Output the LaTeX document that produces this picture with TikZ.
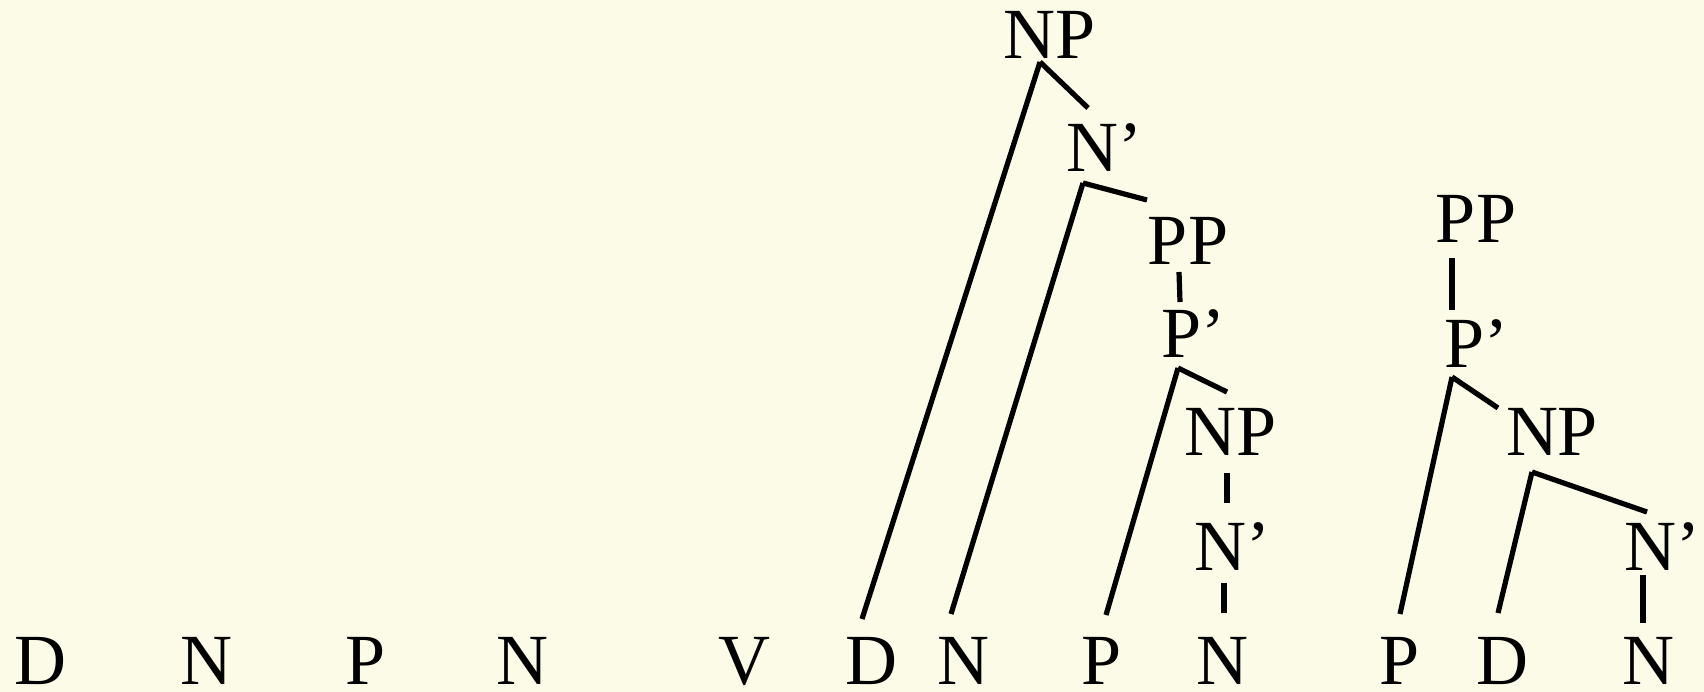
\documentclass[tikz,border=0pt]{standalone}
\usepackage{fontspec}
\setmainfont{Liberation Serif}
\definecolor{paper}{RGB}{251,251,232}
\begin{document}
\begin{tikzpicture}[x=1pt,y=-1pt,
  cat/.style={anchor=base,inner sep=0pt,font=\fontsize{72}{80}\selectfont},
  branch/.style={line width=5.2pt,black}]
\fill[paper] (0,0) rectangle (1704,692);
\useasboundingbox (0,0) rectangle (1704,692);

% terminal categories
\node[cat] (d1) at (40,684) {D};
\node[cat] (n1) at (206,684) {N};
\node[cat] (p1) at (366,684) {P};
\node[cat] (n2) at (522,684) {N};
\node[cat] (v1) at (744,684) {V};
\node[cat] (d2) at (871,684) {D};
\node[cat] (n3) at (963,684) {N};
\node[cat] (p2) at (1102,684) {P};
\node[cat] (n4) at (1222,684) {N};
\node[cat] (p3) at (1400,684) {P};
\node[cat] (d3) at (1502,684) {D};
\node[cat] (n5) at (1648,684) {N};

% object noun phrase
\node[cat] (np1) at (1050,59) {NP};
\node[cat] (nb1) at (1104,172) {N’};
\node[cat] (pp1) at (1188,265) {PP};
\node[cat] (pb1) at (1193,357) {P’};
\node[cat] (np2) at (1231,455) {NP};
\node[cat] (nb2) at (1232,570) {N’};

% prepositional phrase
\node[cat] (pp2) at (1476,243) {PP};
\node[cat] (pb2) at (1476,367) {P’};
\node[cat] (np3) at (1552,455) {NP};
\node[cat] (nb3) at (1662,570) {N’};

% branches
\draw[branch] ([shift={(-10,3)}]np1.base) -- ([shift={(-16,-64)}]nb1.base);
\draw[branch] ([shift={(-10,3)}]np1.base) -- ([shift={(-9,-65)}]d2.base);
\draw[branch] ([shift={(-21,11)}]nb1.base) -- ([shift={(-41,-65)}]pp1.base);
\draw[branch] ([shift={(-21,11)}]nb1.base) -- ([shift={(-12,-70)}]n3.base);
\draw[branch] ([shift={(-9,7)}]pp1.base) -- ([shift={(-13,-55)}]pb1.base);
\draw[branch] ([shift={(-15,11)}]pb1.base) -- ([shift={(-4,-63)}]np2.base);
\draw[branch] ([shift={(-15,11)}]pb1.base) -- ([shift={(4,-69)}]p2.base);
\draw[branch] ([shift={(-4,18)}]np2.base) -- ([shift={(-5,-67)}]nb2.base);
\draw[branch] ([shift={(-8,13)}]nb2.base) -- ([shift={(2,-71)}]n4.base);

\draw[branch] ([shift={(-24,15)}]pp2.base) -- ([shift={(-24,-57)}]pb2.base);
\draw[branch] ([shift={(-24,10)}]pb2.base) -- ([shift={(-54,-47)}]np3.base);
\draw[branch] ([shift={(-24,10)}]pb2.base) -- ([shift={(0,-70)}]p3.base);
\draw[branch] ([shift={(-20,17)}]np3.base) -- ([shift={(-15,-58)}]nb3.base);
\draw[branch] ([shift={(-20,17)}]np3.base) -- ([shift={(-4,-71)}]d3.base);
\draw[branch] ([shift={(-19,5)}]nb3.base) -- ([shift={(-5,-61)}]n5.base);
\end{tikzpicture}
\end{document}
